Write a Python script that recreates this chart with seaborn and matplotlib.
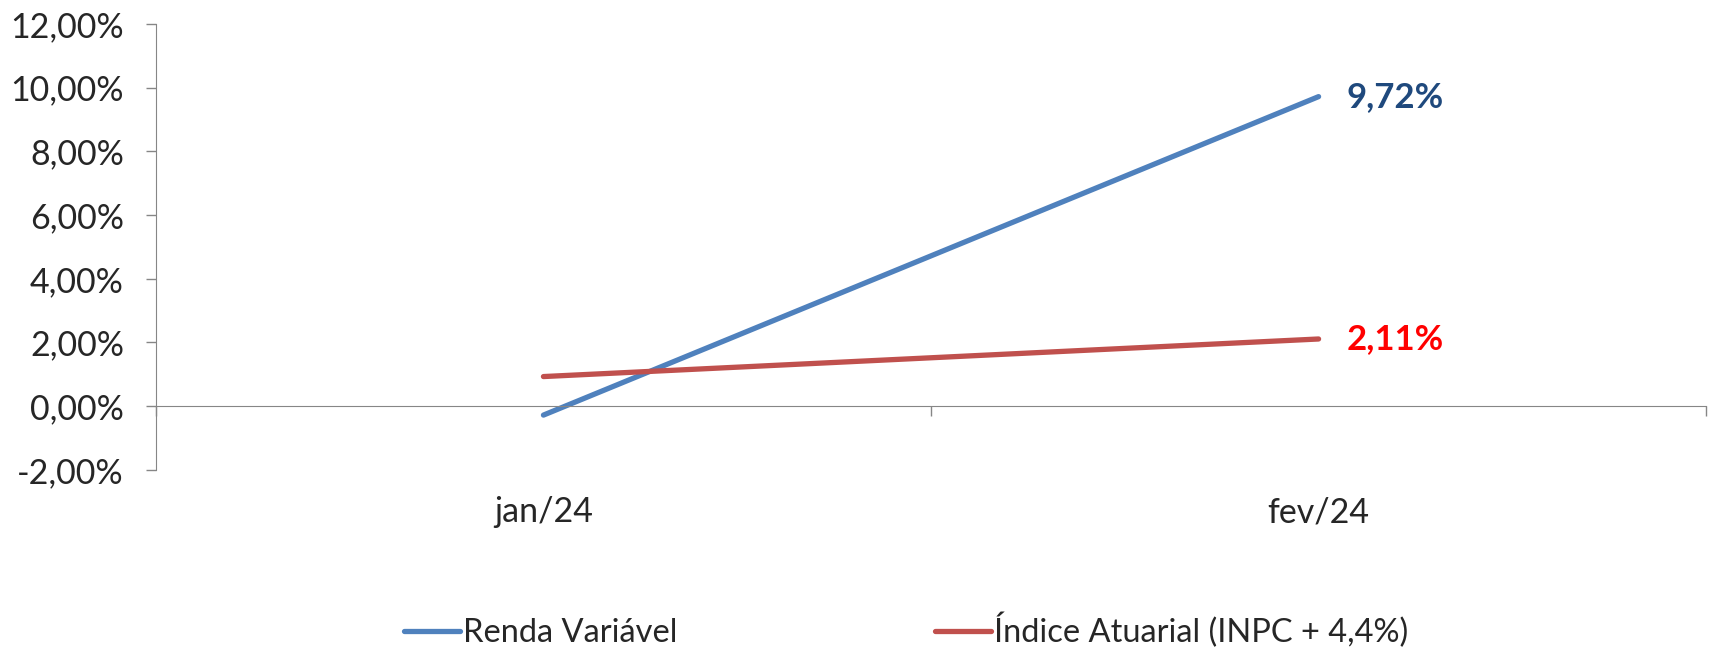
import pandas as pd
import seaborn as sns
import matplotlib.pyplot as plt
from matplotlib.ticker import FuncFormatter

months = ['jan/24', 'fev/24']
renda_variavel = [-0.28, 9.72]
indice_atuarial = [0.93, 2.11]
series_names = ['Renda Variável', 'Índice Atuarial (INPC + 4,4%)']
y_ticks = [-2, 0, 2, 4, 6, 8, 10, 12]

df = pd.DataFrame({
    'mes': list(range(len(months))) * 2,
    'valor': renda_variavel + indice_atuarial,
    'serie': [series_names[0]] * len(months) + [series_names[1]] * len(months),
})

sns.set_style('white')
plt.rcParams['font.family'] = ['Lato', 'DejaVu Sans']

fig = plt.figure(figsize=(17.13, 6.49), dpi=100)
ax = fig.add_axes([0.091, 0.276, 0.905, 0.687])

palette = {series_names[0]: '#4F81BD', series_names[1]: '#C0504D'}
sns.lineplot(data=df, x='mes', y='valor', hue='serie', palette=palette,
             linewidth=3.8, ax=ax, legend=False)
for line in ax.lines:
    line.set_solid_capstyle('round')

ax.set_xlim(-0.5, len(months) - 0.5)
ax.set_ylim(-2, 12)
ax.set_yticks(y_ticks)
ax.yaxis.set_major_formatter(FuncFormatter(lambda v, p: f'{v:.2f}%'.replace('.', ',')))
ax.tick_params(axis='y', length=7, width=1, color='#868686', labelsize=24.5, pad=16, left=True)

# eixo horizontal em 0, com marcas entre as categorias
for s in ['top', 'right']:
    ax.spines[s].set_visible(False)
ax.spines['left'].set_color('#868686')
ax.spines['bottom'].set_color('#868686')
ax.spines['bottom'].set_position(('data', 0))
ax.set_xticks([i - 0.5 for i in range(len(months) + 1)])
ax.tick_params(axis='x', length=7, width=1, color='#868686', labelbottom=False, bottom=True)

sec = ax.secondary_xaxis(0)
sec.set_xticks(range(len(months)))
sec.set_xticklabels(months)
sec.tick_params(length=0, labelsize=24.5, pad=19)
sec.spines['bottom'].set_visible(False)

ax.set_xlabel('')
ax.set_ylabel('')

ax.annotate(f'{renda_variavel[-1]:.2f}%'.replace('.', ','), (len(months) - 1, renda_variavel[-1]),
            xytext=(20, 0), textcoords='offset points', va='center', ha='left',
            fontsize=25, fontweight='bold', color='#1F497D')
ax.annotate(f'{indice_atuarial[-1]:.2f}%'.replace('.', ','), (len(months) - 1, indice_atuarial[-1]),
            xytext=(20, 0), textcoords='offset points', va='center', ha='left',
            fontsize=25, fontweight='bold', color='#FF0000')

handles = [plt.Line2D([], [], color=palette[n], linewidth=3.8, solid_capstyle='round') for n in series_names]
fig.legend(handles, series_names, loc='center', bbox_to_anchor=(0.529, 0.028), ncol=2,
           frameon=False, fontsize=23.5, handlelength=1.7, handletextpad=0.1, columnspacing=7.9)

fig.savefig('out.png', dpi=100)
